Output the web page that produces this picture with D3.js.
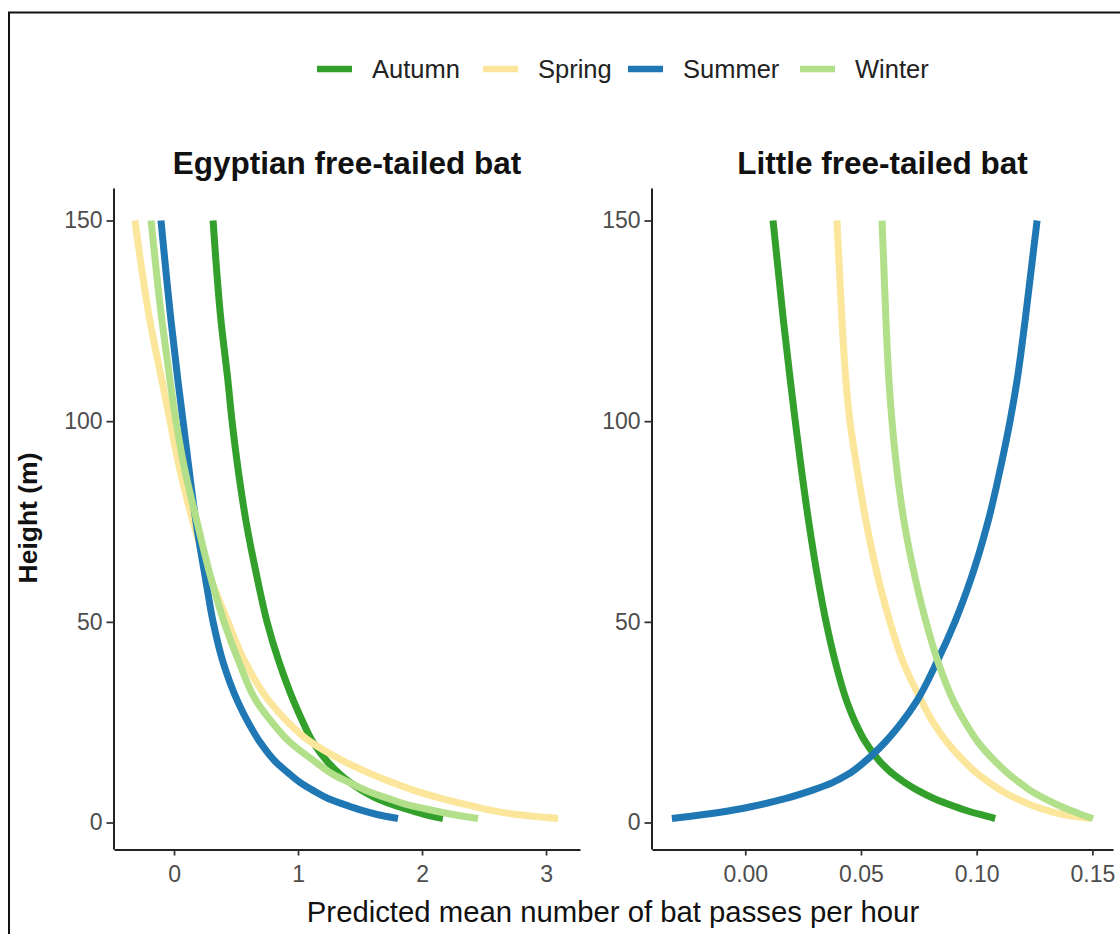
<!DOCTYPE html>
<html>
<head>
<meta charset="utf-8">
<script src="https://cdn.jsdelivr.net/npm/d3@7"></script>
<style>
body{margin:0;background:#fff;}
svg{display:block;font-family:"Liberation Sans",Arial,sans-serif;}
</style>
</head>
<body>
<svg id="chart" width="1120" height="934"></svg>
<script>
// ---------- data ----------
const seasons = ["Autumn","Spring","Summer","Winter"];
const seasonColors = ["#33a02c","#fbe69b","#1f78b4","#b2df8a"];
const panels = ["Egyptian free-tailed bat","Little free-tailed bat"];
const heights = [1,2,3,4,6,8,10,12,15,20,25,30,40,50,60,75,90,100,110,125,150];

// Egyptian free-tailed bat
const egyptAutumn = [2.169,2.024,1.911,1.806,1.637,1.516,1.419,1.339,1.242,1.121,1.040,0.968,0.847,0.750,0.677,0.581,0.508,0.468,0.435,0.379,0.315];
const egyptSpring = [3.097,2.766,2.565,2.419,2.153,1.935,1.758,1.597,1.387,1.105,0.919,0.774,0.573,0.435,0.306,0.153,0.032,-0.032,-0.097,-0.194,-0.315];
const egyptSummer = [1.806,1.637,1.516,1.419,1.242,1.121,1.016,0.935,0.823,0.694,0.597,0.516,0.395,0.315,0.258,0.177,0.113,0.073,0.032,-0.024,-0.105];
const egyptWinter = [2.452,2.250,2.089,1.935,1.726,1.548,1.411,1.282,1.145,0.935,0.790,0.669,0.524,0.403,0.306,0.185,0.073,0.016,-0.032,-0.097,-0.185];

// Little free-tailed bat
const littleAutumn = [0.1080,0.1015,0.0955,0.0905,0.0815,0.0745,0.0688,0.0640,0.0585,0.0520,0.0475,0.0440,0.0389,0.0349,0.0316,0.0274,0.0238,0.0216,0.0195,0.0165,0.0120];
const littleSpring = [0.1494,0.1373,0.1304,0.1252,0.1170,0.1105,0.1053,0.1006,0.0950,0.0872,0.0811,0.0764,0.0682,0.0625,0.0578,0.0522,0.0478,0.0452,0.0435,0.0418,0.0396];
const littleSummer = [-0.0317,-0.0179,-0.0062,0.0029,0.0176,0.0288,0.0379,0.0444,0.0513,0.0604,0.0677,0.0738,0.0828,0.0906,0.0971,0.1049,0.1109,0.1144,0.1174,0.1209,0.1261];
const littleWinter = [0.1503,0.1451,0.1408,0.1365,0.1292,0.1231,0.1184,0.1140,0.1084,0.1006,0.0950,0.0902,0.0833,0.0781,0.0738,0.0686,0.0651,0.0634,0.0621,0.0608,0.0591];

const xTicksLeft = [0,1,2,3];
const xTicksRight = [0.00,0.05,0.10,0.15];
const yTicks = [0,50,100,150];

const panelSeries = [
  [egyptAutumn, egyptSpring, egyptSummer, egyptWinter],
  [littleAutumn, littleSpring, littleSummer, littleWinter]
];
const xDomains = [[-0.484,3.274],[-0.0403,0.1589]];
const xRanges = [[114,580],[652,1113]];
const xTicks = [xTicksLeft, xTicksRight];
const xFormats = [d3.format("d"), d3.format(".2f")];

// ---------- drawing ----------
const svg = d3.select("#chart");
svg.append("rect").attr("width",1120).attr("height",934).attr("fill","#fff");
// outer frame
svg.append("rect").attr("x",9).attr("y",12.5).attr("width",1130).attr("height",950)
  .attr("fill","none").attr("stroke","#111").attr("stroke-width",2);

const y = d3.scaleLinear().domain([-6.6,158.1]).range([849,188]);
const color = d3.scaleOrdinal().domain(seasons).range(seasonColors);

panels.forEach((title,pi)=>{
  const x = d3.scaleLinear().domain(xDomains[pi]).range(xRanges[pi]);
  const g = svg.append("g");

  // series
  const line = d3.line()
    .x(d=>x(d[0]))
    .y(d=>y(d[1]))
    .curve(d3.curveMonotoneY);
  seasons.forEach((s,si)=>{
    const pts = heights.map((h,i)=>[panelSeries[pi][si][i], h]);
    g.append("path").datum(pts)
      .attr("d",line)
      .attr("fill","none")
      .attr("stroke",color(s))
      .attr("stroke-width",7)
      .attr("stroke-linecap","butt")
      .attr("stroke-linejoin","round");
  });

  // axes
  const xAxis = d3.axisBottom(x).tickValues(xTicks[pi]).tickFormat(xFormats[pi]).tickSize(6).tickSizeOuter(0).tickPadding(10);
  const gx = g.append("g").attr("transform","translate(0,849.5)").call(xAxis);
  const yAxis = d3.axisLeft(y).tickValues(yTicks).tickSize(7).tickSizeOuter(0).tickPadding(4);
  const gy = g.append("g").attr("transform",`translate(${xRanges[pi][0]-0.5},0)`).call(yAxis);
  [gx,gy].forEach(a=>{
    a.select(".domain").attr("stroke","#222").attr("stroke-width",2);
    a.selectAll(".tick line").attr("stroke","#333").attr("stroke-width",1.8);
    a.selectAll(".tick text").attr("fill","#4d4d4d").style("font-size","23px").style("font-family","Liberation Sans, Arial, sans-serif");
  });

  // facet title
  g.append("text")
    .attr("x",(xRanges[pi][0]+xRanges[pi][1])/2)
    .attr("y",174)
    .attr("text-anchor","middle")
    .style("font-size","31.5px").style("font-weight","bold").attr("fill","#111")
    .text(title);
});

// axis titles
svg.append("text").attr("x",613).attr("y",922).attr("text-anchor","middle")
  .style("font-size","29.3px").attr("fill","#111")
  .text("Predicted mean number of bat passes per hour");
svg.append("text").attr("transform","translate(37,518) rotate(-90)").attr("text-anchor","middle")
  .style("font-size","26.5px").style("font-weight","bold").attr("fill","#111")
  .text("Height (m)");

// legend
const legendX = [317,483,628,800];
const legend = svg.append("g");
seasons.forEach((s,i)=>{
  const lg = legend.append("g").attr("transform",`translate(${legendX[i]},69)`);
  lg.append("line").attr("x1",0).attr("x2",35).attr("y1",0).attr("y2",0)
    .attr("stroke",color(s)).attr("stroke-width",6.5);
  lg.append("text").attr("x",55).attr("y",9).style("font-size","25.5px").attr("fill","#222").text(s);
});
</script>
</body>
</html>
